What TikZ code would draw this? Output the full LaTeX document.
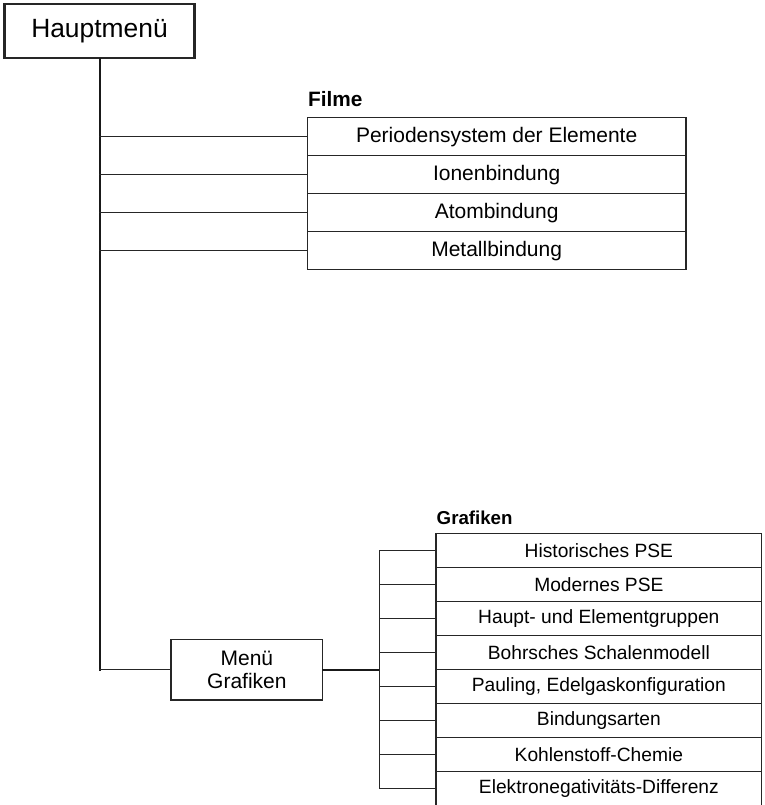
\documentclass[tikz,border=0pt]{standalone}
\usepackage{fontspec}
\setmainfont{Liberation Sans}
\begin{document}
\begin{tikzpicture}[x=1pt,y=-1pt,
  line cap=rect,
  conn/.style={line width=1.3pt, draw=black!85},
  thickconn/.style={line width=2pt, draw=black!90},
  filmrow/.style={draw=black!85, line width=1.3pt, minimum width=378.7pt, minimum height=38pt, inner sep=0pt, font=\fontsize{21}{24}\selectfont},
  grafrow/.style={draw=black!85, line width=1.3pt, minimum width=325.7pt, minimum height=34pt, inner sep=0pt, font=\fontsize{19.2}{22}\selectfont},
  mainbox/.style={draw=black!85, line width=2.5pt, minimum width=190pt, minimum height=54pt, inner sep=0pt, font=\fontsize{26.4}{30}\selectfont},
  menubox/.style={draw=black!85, line width=1.3pt, minimum width=151.7pt, minimum height=60.7pt, inner sep=0pt, align=center, font=\fontsize{21}{23.3}\selectfont},
  headlabel/.style={anchor=base west, inner sep=0pt, font=\fontsize{20.8}{22}\bfseries\selectfont}
]
\useasboundingbox (0,0) rectangle (764,805);

\node[mainbox] (haupt) at (99.5,31) {Hauptmenü};

\node[headlabel] (filme) at (308,106.7) {Filme};
\node[filmrow] (f1) at (496.65,136.7) {Periodensystem der Elemente};
\node[filmrow] (f2) at (496.65,174.7) {Ionenbindung};
\node[filmrow] (f3) at (496.65,212.7) {Atombindung};
\node[filmrow] (f4) at (496.65,250.7) {Metallbindung};

\node[menubox] (menu) at (246.85,669.7) {Menü\\Grafiken};

\node[headlabel, font=\fontsize{18.7}{22}\bfseries\selectfont] (graf) at (436.5,524) {Grafiken};
\node[grafrow] (g1) at (598.85,550.3) {Historisches PSE};
\node[grafrow] (g2) at (598.85,584.3) {Modernes PSE};
\node[grafrow] (g3) at (598.85,618.3) {Haupt- und Elementgruppen};
\node[grafrow] (g4) at (598.85,652.3) {Bohrsches Schalenmodell};
\node[grafrow] (g5) at (598.85,686.3) {Pauling, Edelgaskonfiguration};
\node[grafrow] (g6) at (598.85,720.3) {Bindungsarten};
\node[grafrow] (g7) at (598.85,754.3) {Kohlenstoff-Chemie};
\node[grafrow] (g8) at (598.85,788.3) {Elektronegativitäts-Differenz};

% trunk from Hauptmenü to Menü Grafiken
\draw[thickconn] (haupt.south) -- (haupt.south |- menu.west);
\draw[conn] (haupt.south |- menu.west) -- (menu.west);
\foreach \i in {1,2,3,4}{
  \draw[conn] (haupt.south |- f\i.west) -- (f\i.west);
}

% bracket to Grafiken
\coordinate (br) at (379.3,669.7);
\draw[thickconn] (menu.east) -- (br);
\draw[conn] (br |- g1.west) -- (br |- g8.west);
\foreach \i in {1,...,8}{
  \draw[conn] (br |- g\i.west) -- (g\i.west);
}
\end{tikzpicture}
\end{document}
